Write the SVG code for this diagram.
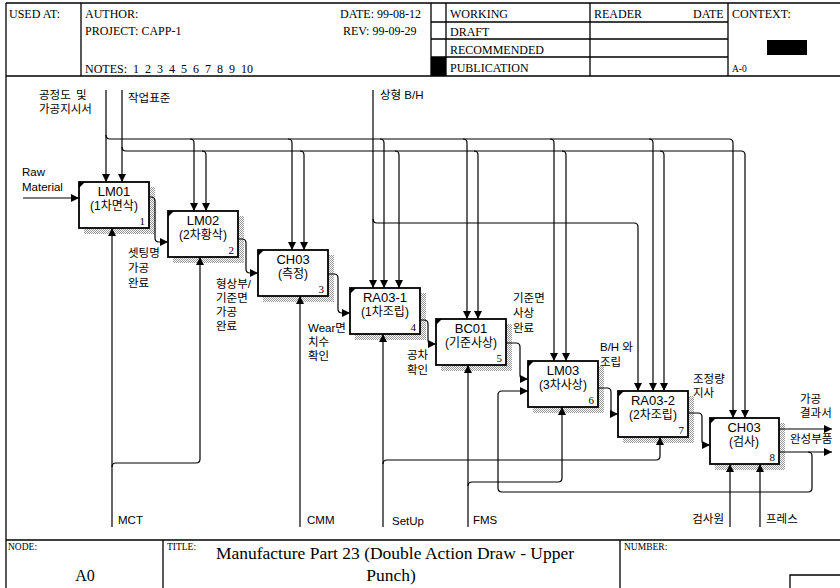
<svg xmlns="http://www.w3.org/2000/svg" width="840" height="588" viewBox="0 0 840 588">
<style>
.frame{fill:none;stroke:#000;stroke-width:1.3}
.hd{font-family:"Liberation Serif",serif;font-size:12px;fill:#000}
.sm{font-family:"Liberation Serif",serif;font-size:9.5px;fill:#000}
.box{fill:#fff;stroke:#000;stroke-width:1.8}
.nm{font-family:"Liberation Sans",Arial,sans-serif;font-size:13px;fill:#000;text-anchor:middle}
.kn{font-family:"Liberation Sans","Noto Sans CJK KR",sans-serif;font-size:12px;fill:#000;text-anchor:middle}
.num{font-family:"Liberation Serif",serif;font-size:11px;fill:#000;text-anchor:end}
.lb{font-family:"Liberation Sans","Noto Sans CJK KR",sans-serif;font-size:11.5px;fill:#000}
.ln{fill:none;stroke:#000;stroke-width:1.2}
.ar{fill:none;stroke:#000;stroke-width:1.2;marker-end:url(#ah)}
</style>
<defs>
<marker id="ah" viewBox="0 0 10 10" refX="10" refY="5" markerWidth="8" markerHeight="8" markerUnits="userSpaceOnUse" orient="auto"><path d="M0,0 L10,5 L0,10 z" fill="#000"/></marker>
<pattern id="dots" width="2" height="2" patternUnits="userSpaceOnUse"><rect width="2" height="2" fill="#fff"/><rect width="1" height="1" fill="#999"/><rect x="1" y="1" width="1" height="1" fill="#999"/></pattern>
</defs>
<rect width="840" height="588" fill="#fff"/>

<g id="header">
<path class="frame" d="M6,3 H840 M6,3 V588 M6,76 H840 M81,3 V76 M431,3 V76 M446,3 V76 M590,3 V76 M728,3 V76 M431,22 H728 M431,39 H728 M431,57 H728"/>
<rect x="431" y="57" width="15" height="19" fill="#000"/>
<rect x="767" y="40" width="40" height="15" fill="#000"/>
<text class="hd" x="9" y="18">USED AT:</text>
<text class="hd" x="85" y="18">AUTHOR:</text>
<text class="hd" x="85" y="35">PROJECT:  CAPP-1</text>
<text class="hd" x="85" y="73" word-spacing="3">NOTES:  1  2  3  4  5  6  7  8  9  10</text>
<text class="hd" x="340" y="18">DATE: 99-08-12</text>
<text class="hd" x="343" y="35">REV:  99-09-29</text>
<text class="hd" x="450" y="18">WORKING</text>
<text class="hd" x="450" y="36">DRAFT</text>
<text class="hd" x="450" y="54">RECOMMENDED</text>
<text class="hd" x="450" y="72">PUBLICATION</text>
<text class="hd" x="594" y="18">READER</text>
<text class="hd" x="693" y="18">DATE</text>
<text class="hd" x="732" y="18">CONTEXT:</text>
<text class="sm" x="732" y="72">A-0</text>
</g>

<g id="footer">
<path class="frame" d="M6,540 H840 M163,540 V588 M620,540 V588 M790,588 V575 H840"/>
<text class="sm" x="8" y="550">NODE:</text>
<text class="sm" x="167" y="550">TITLE:</text>
<text class="sm" x="624" y="550">NUMBER:</text>
<text x="85" y="581" font-family="Liberation Serif,serif" font-size="16" text-anchor="middle">A0</text>
<text x="395" y="559" font-family="Liberation Serif,serif" font-size="17.5" text-anchor="middle">Manufacture Part 23 (Double Action Draw - Upper</text>
<text x="391" y="581" font-family="Liberation Serif,serif" font-size="17.5" text-anchor="middle">Punch)</text>
</g>

<g id="LM01">
<polygon points="149,187 155,187 155,234 84,234 84,228 149,228" fill="url(#dots)"/>
<rect class="box" x="79" y="182" width="70" height="46"/>
<polygon points="79,182 85,182 79,188" fill="#000"/>
<text class="nm" x="114" y="196">LM01</text>
<text class="kn" x="114" y="210">(1차면삭)</text>
<text class="num" x="145" y="225">1</text>
</g>
<g id="LM02">
<polygon points="238,216 244,216 244,263 173,263 173,257 238,257" fill="url(#dots)"/>
<rect class="box" x="168" y="211" width="70" height="46"/>
<polygon points="168,211 174,211 168,217" fill="#000"/>
<text class="nm" x="203" y="225">LM02</text>
<text class="kn" x="203" y="239">(2차황삭)</text>
<text class="num" x="234" y="254">2</text>
</g>
<g id="CH03a">
<polygon points="328,255 334,255 334,302 263,302 263,296 328,296" fill="url(#dots)"/>
<rect class="box" x="258" y="250" width="70" height="46"/>
<polygon points="258,250 264,250 258,256" fill="#000"/>
<text class="nm" x="293" y="264">CH03</text>
<text class="kn" x="293" y="278">(측정)</text>
<text class="num" x="324" y="293">3</text>
</g>
<g id="RA03-1">
<polygon points="420,293 426,293 426,340 355,340 355,334 420,334" fill="url(#dots)"/>
<rect class="box" x="350" y="288" width="70" height="46"/>
<polygon points="350,288 356,288 350,294" fill="#000"/>
<text class="nm" x="385" y="302">RA03-1</text>
<text class="kn" x="385" y="316">(1차조립)</text>
<text class="num" x="416" y="331">4</text>
</g>
<g id="BC01">
<polygon points="506,324 512,324 512,371 441,371 441,365 506,365" fill="url(#dots)"/>
<rect class="box" x="436" y="319" width="70" height="46"/>
<polygon points="436,319 442,319 436,325" fill="#000"/>
<text class="nm" x="471" y="333">BC01</text>
<text class="kn" x="471" y="347">(기준사상)</text>
<text class="num" x="502" y="362">5</text>
</g>
<g id="LM03">
<polygon points="598,366 604,366 604,413 533,413 533,407 598,407" fill="url(#dots)"/>
<rect class="box" x="528" y="361" width="70" height="46"/>
<polygon points="528,361 534,361 528,367" fill="#000"/>
<text class="nm" x="563" y="375">LM03</text>
<text class="kn" x="563" y="389">(3차사상)</text>
<text class="num" x="594" y="404">6</text>
</g>
<g id="RA03-2">
<polygon points="688,396 694,396 694,443 623,443 623,437 688,437" fill="url(#dots)"/>
<rect class="box" x="618" y="391" width="70" height="46"/>
<polygon points="618,391 624,391 618,397" fill="#000"/>
<text class="nm" x="653" y="405">RA03-2</text>
<text class="kn" x="653" y="419">(2차조립)</text>
<text class="num" x="684" y="434">7</text>
</g>
<g id="CH03b">
<polygon points="779,423 785,423 785,470 715,470 715,464 779,464" fill="url(#dots)"/>
<rect class="box" x="710" y="418" width="69" height="46"/>
<polygon points="710,418 716,418 710,424" fill="#000"/>
<text class="nm" x="744" y="432">CH03</text>
<text class="kn" x="744" y="446">(검사)</text>
<text class="num" x="775" y="461">8</text>
</g>

<g id="connectors">
<path class="ar" d="M23,198 H79"/>
<path class="ar" d="M149,197 H151 Q155,197 155,201 V238 Q155,242 159,242 H168"/>
<path class="ar" d="M238,239 H242 Q246,239 246,243 V269 Q246,273 250,273 H258"/>
<path class="ar" d="M328,274 H334 Q338,274 338,278 V309 Q338,313 342,313 H350"/>
<path class="ar" d="M420,320 H424 Q428,320 428,324 V340 Q428,344 432,344 H436"/>
<path class="ar" d="M506,343 H516 Q520,343 520,347 V375 Q520,379 524,379 H528"/>
<path class="ar" d="M598,388 H607 Q611,388 611,392 V410 Q611,414 615,414 H618"/>
<path class="ar" d="M688,413 H698 Q702,413 702,417 V441 Q702,445 706,445 H710"/>
<path class="ar" d="M779,429 H832"/>
<path class="ar" d="M779,452 H832"/>
<path class="ar" d="M808,452 Q812,452 812,456 V488 Q812,492 808,492 H502 Q498,492 498,488 V395 Q498,391 502,391 H528"/>

<path class="ar" d="M106,90 V182"/>
<path class="ar" d="M122,90 V182"/>
<path class="ar" d="M106,135 Q106,139 110,139 H729 Q733,139 733,143 V418"/>
<path class="ar" d="M122,147 Q122,151 126,151 H741 Q745,151 745,155 V418"/>
<path class="ar" d="M190,139 Q194,139 194,143 V211"/>
<path class="ar" d="M288,139 Q292,139 292,143 V250"/>
<path class="ar" d="M380,139 Q384,139 384,143 V288"/>
<path class="ar" d="M463,139 Q467,139 467,143 V319"/>
<path class="ar" d="M550,139 Q554,139 554,143 V361"/>
<path class="ar" d="M649,139 Q653,139 653,143 V391"/>
<path class="ar" d="M202,151 Q206,151 206,155 V211"/>
<path class="ar" d="M300,151 Q304,151 304,155 V250"/>
<path class="ar" d="M395,151 Q399,151 399,155 V288"/>
<path class="ar" d="M474,151 Q478,151 478,155 V319"/>
<path class="ar" d="M562,151 Q566,151 566,155 V361"/>
<path class="ar" d="M660,151 Q664,151 664,155 V391"/>
<path class="ar" d="M373,90 V288"/>
<path class="ar" d="M373,219 Q373,223 377,223 H634 Q638,223 638,227 V391"/>

<path class="ar" d="M112,527 V228"/>
<path class="ar" d="M112,467 Q112,463 116,463 H196 Q200,463 200,459 V257"/>
<path class="ar" d="M300,527 V296"/>
<path class="ar" d="M383,527 V334"/>
<path class="ar" d="M383,464 Q383,460 387,460 H656 Q660,460 660,456 V437"/>
<path class="ar" d="M468,527 V365"/>
<path class="ar" d="M468,486 Q468,482 472,482 H558 Q562,482 562,478 V407"/>
<path class="ar" d="M730,527 V464"/>
<path class="ar" d="M760,527 V464"/>
</g>

<g id="labels">
<text class="lb" x="22" y="176">Raw</text>
<text class="lb" x="22" y="191">Material</text>
<text class="lb" x="39" y="99" word-spacing="2">공정도 및</text>
<text class="lb" x="39" y="113">가공지시서</text>
<text class="lb" x="128" y="102">작업표준</text>
<text class="lb" x="380" y="99">상형 B/H</text>
<text class="lb" x="128" y="257">셋팅명</text>
<text class="lb" x="128" y="272">가공</text>
<text class="lb" x="128" y="287">완료</text>
<text class="lb" x="216" y="288">형상부/</text>
<text class="lb" x="216" y="302">기준면</text>
<text class="lb" x="216" y="316">가공</text>
<text class="lb" x="216" y="330">완료</text>
<text class="lb" x="308" y="332">Wear면</text>
<text class="lb" x="308" y="346">치수</text>
<text class="lb" x="308" y="360">확인</text>
<text class="lb" x="407" y="359">공차</text>
<text class="lb" x="407" y="374">확인</text>
<text class="lb" x="513" y="302">기준면</text>
<text class="lb" x="513" y="317">사상</text>
<text class="lb" x="513" y="332">완료</text>
<text class="lb" x="600" y="351">B/H 와</text>
<text class="lb" x="600" y="366">조립</text>
<text class="lb" x="693" y="383">조정량</text>
<text class="lb" x="693" y="397">지사</text>
<text class="lb" x="800" y="403">가공</text>
<text class="lb" x="800" y="417">결과서</text>
<text class="lb" x="790" y="443">완성부품</text>
<text class="lb" x="118" y="524">MCT</text>
<text class="lb" x="307" y="524">CMM</text>
<text class="lb" x="392" y="525">SetUp</text>
<text class="lb" x="473" y="524">FMS</text>
<text class="lb" x="724" y="523" text-anchor="end">검사원</text>
<text class="lb" x="766" y="523">프레스</text>
</g>
</svg>
